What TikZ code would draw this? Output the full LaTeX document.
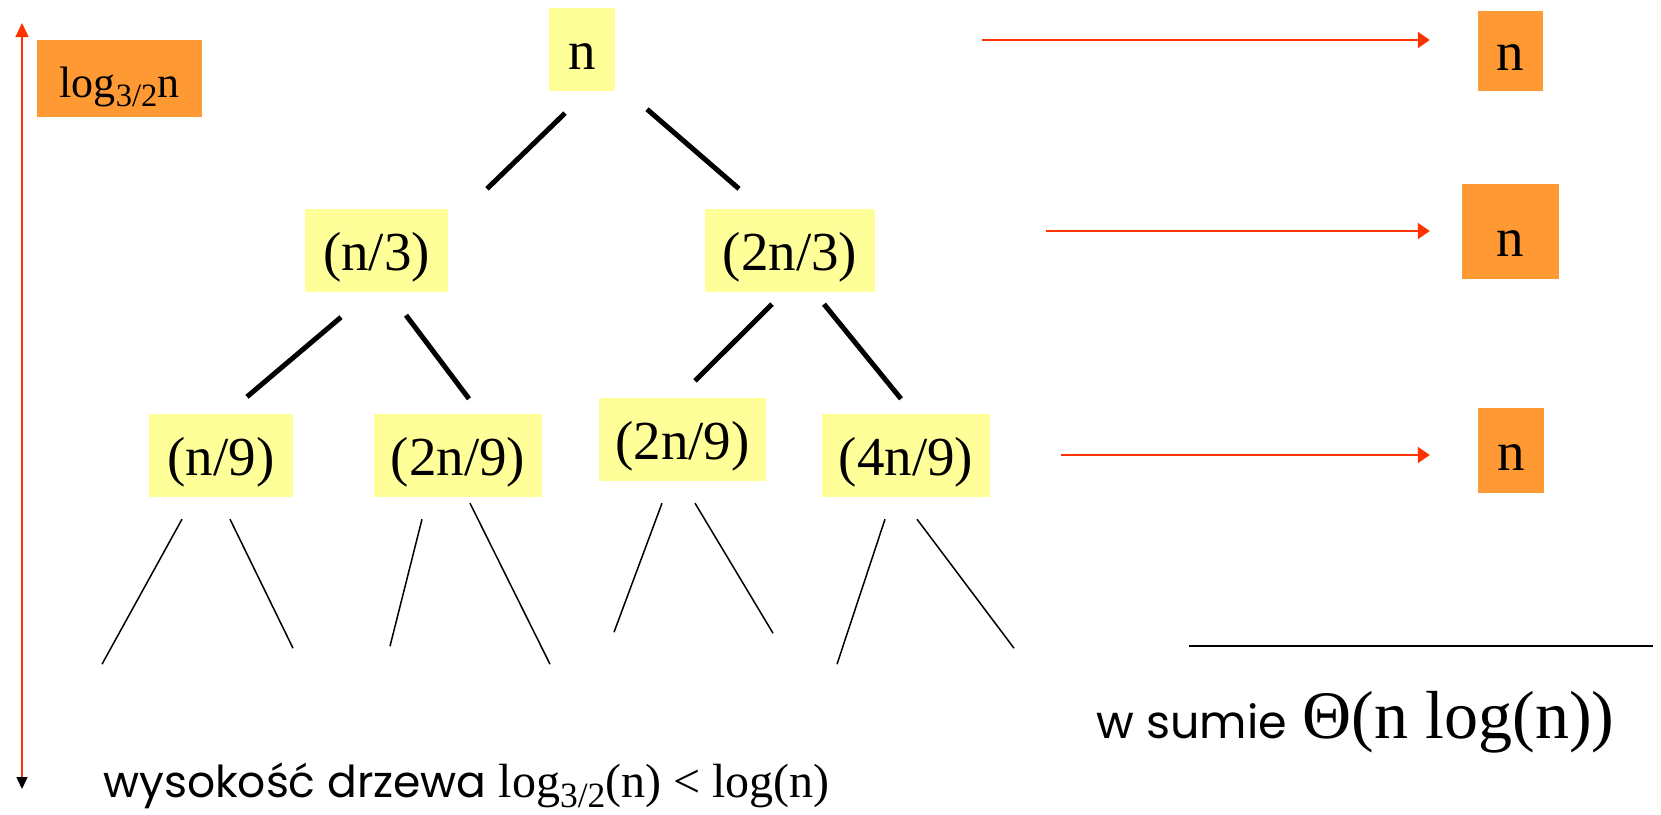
\documentclass[tikz,border=0pt]{standalone}
\usepackage{fontspec}
\setmainfont{Liberation Serif}
\newfontfamily\comicfont{Poppins}
\usetikzlibrary{arrows.meta,calc}
\definecolor{boxyellow}{HTML}{FFFF99}
\definecolor{boxorange}{HTML}{FF9933}
\definecolor{arrowred}{HTML}{FF3300}
\newcommand\lowsub[1]{\raisebox{-0.22em}{\scalebox{0.74}{#1}}}
\begin{document}
\begin{tikzpicture}[x=1pt,y=-1pt,
  ybox/.style={fill=boxyellow, inner sep=0pt, minimum width=#1, minimum height=83pt,
    text height=47pt, text depth=8pt, font=\fontsize{55}{60}\selectfont},
  obox/.style={fill=boxorange, inner sep=0pt, text height=47pt, text depth=8pt,
    font=\fontsize{55}{60}\selectfont},
  thick edge/.style={line width=5pt, black},
  thin edge/.style={line width=1.5pt, black},
  redarrow/.style={arrowred, line width=2pt, -{Triangle[length=12pt,width=16pt]}}
]
\useasboundingbox (0,0) rectangle (1661,814);
\fill[white] (0,0) rectangle (1661,814);

% tree nodes
\node[ybox=66pt]  (root) at (582,49.5) {n};
\node[ybox=143pt] (n3)   at (376.5,250.5) {(n/3)};
\node[ybox=170pt] (tn3)  at (790,250.5) {(2n/3)};
\node[ybox=144pt] (n9)   at (221,455.5) {(n/9)};
\node[ybox=168pt] (tn9a) at (458,455.5) {(2n/9)};
\node[ybox=167pt] (tn9b) at (682.5,439.5) {(2n/9)};
\node[ybox=168pt] (fn9)  at (906,455.5) {(4n/9)};

% orange level sums
\node[obox, minimum width=65pt, minimum height=80pt] (otop) at (1510.5,51) {n};
\node[obox, minimum width=97pt, minimum height=95pt, text height=52pt, text depth=3pt] (omid) at (1510.5,231.5) {n};
\node[obox, minimum width=66pt, minimum height=85pt] (obot) at (1511,450.5) {n};

% log box
\node[fill=boxorange, inner sep=0pt, minimum width=165pt, minimum height=77pt,
  text height=40pt, text depth=3pt, font=\fontsize{44}{48}\selectfont]
  (logbox) at (119.5,78.5) {log\lowsub{3/2}n};

% thick edges
\draw[thick edge] ($(root.south)+(-17,22)$) -- ($(n3.north)+(110.5,-20)$);
\draw[thick edge] ($(root.south)+(65,18)$) -- ($(tn3.north)+(-51,-20)$);
\draw[thick edge] ($(n3.south)+(-35.5,25)$) -- ($(n9.north)+(26,-17)$);
\draw[thick edge] ($(n3.south)+(29.5,23)$) -- ($(tn9a.north)+(11,-15)$);
\draw[thick edge] ($(tn3.south)+(-18,12)$) -- ($(tn9b.north)+(12.5,-17)$);
\draw[thick edge] ($(tn3.south)+(34,12)$) -- ($(fn9.north)+(-5,-15)$);

% thin edges
\draw[thin edge] ($(n9.south)+(-39,22)$) -- ++(-80,145);
\draw[thin edge] ($(n9.south)+(9,22)$) -- ++(63,129);
\draw[thin edge] ($(tn9a.south)+(-36,22)$) -- ++(-32,127);
\draw[thin edge] ($(tn9a.south)+(12,6)$) -- ++(80,161);
\draw[thin edge] ($(tn9b.south)+(-20.5,22)$) -- ++(-48,129);
\draw[thin edge] ($(tn9b.south)+(12.5,22)$) -- ++(78,130);
\draw[thin edge] ($(fn9.south)+(-21,22)$) -- ++(-48,145);
\draw[thin edge] ($(fn9.south)+(11,22)$) -- ++(97,129);

% red arrows to level sums
\coordinate (atop) at ($(otop.west)+(-48,-11)$);
\coordinate (amid) at ($(omid.west)+(-32,-0.5)$);
\coordinate (abot) at ($(obot.west)+(-48,4.5)$);
\draw[redarrow] ($(atop)+(-448,0)$) -- (atop);
\draw[redarrow] ($(amid)+(-384,0)$) -- (amid);
\draw[redarrow] ($(abot)+(-369,0)$) -- (abot);

% height arrow
\coordinate (htop) at (22,23);
\coordinate (hbot) at (22,789);
\draw[arrowred, line width=1.5pt, {Triangle[length=14pt,width=13pt]}-{Triangle[length=12pt,width=11pt,black]}] (htop) -- (hbot);

% sum line
\coordinate (sl) at (1189,646);
\coordinate (sr) at (1653,646);
\draw[line width=2pt] (sl) -- (sr);

% texts
\node[anchor=base west, inner sep=0pt] (height) at (103,797)
  {\fontsize{48}{52}\selectfont{\comicfont\fontsize{44}{48}\selectfont wysokość drzewa} log\lowsub{3/2}(n) < log(n)};
\node[anchor=base west, inner sep=0pt] (sum) at (1096,738)
  {{\comicfont\fontsize{46}{50}\selectfont w sumie}\hspace{16pt}\fontsize{68}{72}\selectfont Θ(n log(n))};
\end{tikzpicture}
\end{document}
